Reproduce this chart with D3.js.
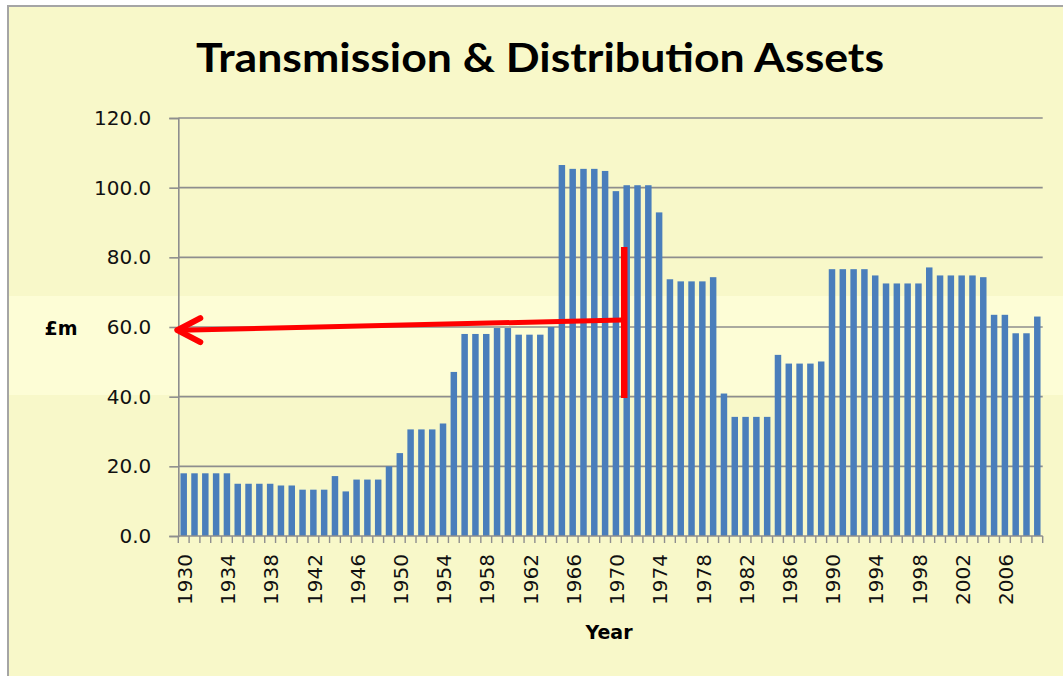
<!DOCTYPE html>
<html>
<head>
<meta charset="utf-8">
<script src="https://cdn.jsdelivr.net/npm/d3@7"></script>
<style>
  body { margin: 0; background: #fff; }
  text { font-family: "DejaVu Sans", Verdana, sans-serif; }
</style>
</head>
<body>
<div id="chart"></div>
<script>
// Data
var years = [1930, 1931, 1932, 1933, 1934, 1935, 1936, 1937, 1938, 1939,
    1940, 1941, 1942, 1943, 1944, 1945, 1946, 1947, 1948, 1949,
    1950, 1951, 1952, 1953, 1954, 1955, 1956, 1957, 1958, 1959,
    1960, 1961, 1962, 1963, 1964, 1965, 1966, 1967, 1968, 1969,
    1970, 1971, 1972, 1973, 1974, 1975, 1976, 1977, 1978, 1979,
    1980, 1981, 1982, 1983, 1984, 1985, 1986, 1987, 1988, 1989,
    1990, 1991, 1992, 1993, 1994, 1995, 1996, 1997, 1998, 1999,
    2000, 2001, 2002, 2003, 2004, 2005, 2006, 2007, 2008, 2009];

var assets = [18.0, 18.0, 18.0, 18.0, 18.0, 15.0, 15.0, 15.0, 15.0, 14.5,
    14.5, 13.3, 13.3, 13.3, 17.2, 12.8, 16.2, 16.2, 16.2, 20.0,
    23.8, 30.6, 30.6, 30.6, 32.3, 47.1, 58.0, 58.0, 58.0, 59.7,
    59.7, 57.8, 57.8, 57.8, 60.0, 106.5, 105.4, 105.4, 105.4, 104.8,
    99.0, 100.7, 100.7, 100.7, 92.9, 73.7, 73.1, 73.1, 73.1, 74.3,
    40.9, 34.2, 34.2, 34.2, 34.2, 52.0, 49.5, 49.5, 49.5, 50.1,
    76.6, 76.6, 76.6, 76.6, 74.8, 72.5, 72.5, 72.5, 72.5, 77.1,
    74.8, 74.8, 74.8, 74.8, 74.3, 63.5, 63.5, 58.2, 58.2, 63.0];

var yTicks = [0, 20, 40, 60, 80, 100, 120];
var xTickLabels = [1930, 1934, 1938, 1942, 1946, 1950, 1954, 1958, 1962, 1966,
    1970, 1974, 1978, 1982, 1986, 1990, 1994, 1998, 2002, 2006];

// red annotation, in data units (year, £m)
var arrowStart = [1970.6, 62.0];
var arrowEnd = [1929.5, 59.1];
var markerLine = [1970.77, 39.6, 83.0];

var W = 1063, H = 676;
var margin = { top: 118, right: 20.3, bottom: 140, left: 178.3 },
    width = W - margin.left - margin.right,
    height = H - margin.top - margin.bottom;

var svg = d3.select("#chart")
    .append("svg")
    .attr("width", W)
    .attr("height", H);

// chart frame and the lighter band across it
svg.append("rect")
    .attr("x", 8).attr("y", 6)
    .attr("width", W + 20).attr("height", H + 20)
    .attr("fill", "#f8f8c9")
    .attr("stroke", "#a5a5a5")
    .attr("stroke-width", 2);
svg.append("rect")
    .attr("x", 9).attr("y", 296)
    .attr("width", W).attr("height", 99)
    .attr("fill", "#fdfdd6");

// title
svg.append("text")
    .attr("x", 196).attr("y", 72)
    .attr("textLength", 688)
    .attr("lengthAdjust", "spacingAndGlyphs")
    .style("font-family", "Lato, 'Open Sans', sans-serif")
    .style("font-weight", "bold")
    .style("font-size", "41px")
    .attr("fill", "#000")
    .text("Transmission & Distribution Assets");

var g = svg.append("g")
    .attr("transform", "translate(" + margin.left + "," + margin.top + ")");

var x = d3.scaleBand()
    .domain(years)
    .range([0, width])
    .paddingInner(0.4)
    .paddingOuter(0.2);

var xc = d3.scaleLinear()
    .domain([years[0] - 0.5, years[years.length - 1] + 0.5])
    .range([0, width]);

var y = d3.scaleLinear()
    .domain([0, 120])
    .range([height, 0]);

// gridlines
g.selectAll(".grid")
    .data(yTicks.filter(function (d) { return d > 0; }))
    .enter()
    .append("line")
    .attr("x1", 0).attr("x2", width)
    .attr("y1", function (d) { return y(d); })
    .attr("y2", function (d) { return y(d); })
    .attr("stroke", "#8e8e8e")
    .attr("stroke-width", 1.6);

// bars
g.selectAll(".bar")
    .data(assets)
    .enter()
    .append("rect")
    .attr("x", function (d, i) { return x(years[i]); })
    .attr("y", function (d) { return y(d); })
    .attr("width", x.bandwidth())
    .attr("height", function (d) { return height - y(d); })
    .attr("fill", "#4a7ebb");

// y axis
var yAxis = g.append("g")
    .call(d3.axisLeft(y)
        .tickValues(yTicks)
        .tickSize(9)
        .tickPadding(18)
        .tickFormat(d3.format(".1f")));
yAxis.select(".domain").attr("stroke", "#8e8e8e").attr("stroke-width", 1.6);
yAxis.selectAll(".tick line").attr("stroke", "#8e8e8e").attr("stroke-width", 1.6);
yAxis.selectAll(".tick text")
    .style("font-size", "20px")
    .attr("fill", "#111");

// x axis: ticks at category boundaries, labels every 4 years
var xAxisG = g.append("g").attr("transform", "translate(0," + height + ")");
xAxisG.append("line")
    .attr("x1", 0).attr("x2", width)
    .attr("stroke", "#8e8e8e").attr("stroke-width", 1.6);
xAxisG.selectAll(".xtick")
    .data(d3.range(years.length + 1))
    .enter()
    .append("line")
    .attr("x1", function (i) { return xc(years[0] - 0.5 + i); })
    .attr("x2", function (i) { return xc(years[0] - 0.5 + i); })
    .attr("y1", 0).attr("y2", 7)
    .attr("stroke", "#8e8e8e").attr("stroke-width", 1.4);
xAxisG.selectAll(".xlab")
    .data(xTickLabels)
    .enter()
    .append("text")
    .attr("transform", function (d) {
        return "translate(" + (x(d) + x.bandwidth() / 2 + 1) + ",18) rotate(-90)";
    })
    .attr("text-anchor", "end")
    .attr("dy", "0.36em")
    .style("font-size", "20px")
    .attr("fill", "#111")
    .text(function (d) { return d; });

// axis titles
svg.append("text")
    .attr("x", 609).attr("y", 639)
    .attr("text-anchor", "middle")
    .style("font-weight", "bold")
    .style("font-size", "19px")
    .text("Year");
svg.append("text")
    .attr("x", 61).attr("y", 335)
    .attr("text-anchor", "middle")
    .style("font-weight", "bold")
    .style("font-size", "19px")
    .text("£m");

// red annotation
g.append("line")
    .attr("x1", xc(markerLine[0])).attr("x2", xc(markerLine[0]))
    .attr("y1", y(markerLine[1])).attr("y2", y(markerLine[2]))
    .attr("stroke", "#ff0000")
    .attr("stroke-width", 6.5);

var ax = xc(arrowEnd[0]) - 1, ay = y(arrowEnd[1]);
g.append("line")
    .attr("x1", xc(arrowStart[0])).attr("y1", y(arrowStart[1]))
    .attr("x2", ax + 3).attr("y2", ay)
    .attr("stroke", "#ff0000")
    .attr("stroke-width", 5);
g.append("path")
    .attr("d", "M" + (ax + 23) + "," + (ay - 12) + "L" + ax + "," + ay + "L" + (ax + 23) + "," + (ay + 12))
    .attr("fill", "none")
    .attr("stroke", "#ff0000")
    .attr("stroke-width", 6)
    .attr("stroke-linecap", "round")
    .attr("stroke-linejoin", "round");
</script>
</body>
</html>
